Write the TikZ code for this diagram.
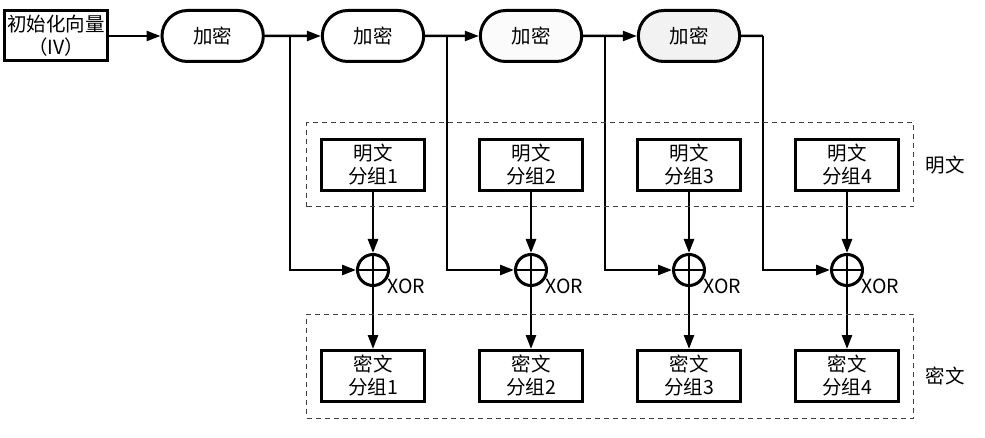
\documentclass[tikz,border=0pt]{standalone}
\usepackage{fontspec}
\setmainfont{Noto Sans CJK SC}
\usetikzlibrary{shapes.misc, arrows.meta, positioning, calc, fit}

\begin{document}
\begin{tikzpicture}[x=1pt, y=1pt, >={Triangle[length=14pt, width=10pt]}, font=\fontsize{19.5}{23}\selectfont]
  \tikzstyle{block} = [rectangle, draw, line width=3pt, text width=100pt, text centered, inner sep=1.5pt, minimum height=51pt]
  \tikzstyle{enc} = [rounded rectangle, draw, line width=3pt, minimum width=108pt, minimum height=51pt]
  \tikzstyle{xor} = [circle, draw, line width=3pt, minimum size=31pt, inner sep=0pt]
  \tikzstyle{group} = [rectangle, draw=black!75, dash pattern=on 5pt off 4pt, line width=1pt, inner xsep=13.5pt, inner ysep=15pt]
  \tikzstyle{wire} = [line width=2.5pt]

  \useasboundingbox (0,0) rectangle (985,-438);

  % plaintext blocks
  \node [block] (p1) at (373,-165) {明文\\分组1};
  \node [block, right=52pt of p1] (p2) {明文\\分组2};
  \node [block, right=52pt of p2] (p3) {明文\\分组3};
  \node [block, right=52pt of p3] (p4) {明文\\分组4};

  % xor gates
  \node [xor, below=61pt of p1] (x1) {};
  \node [xor, below=61pt of p2] (x2) {};
  \node [xor, below=61pt of p3] (x3) {};
  \node [xor, below=61pt of p4] (x4) {};

  % ciphertext blocks
  \node [block, below=62pt of x1] (c1) {密文\\分组1};
  \node [block, below=62pt of x2] (c2) {密文\\分组2};
  \node [block, below=62pt of x3] (c3) {密文\\分组3};
  \node [block, below=62pt of x4] (c4) {密文\\分组4};

  % encryption chain
  \node [enc, above=75pt of p1] (enc2) {加密};
  \node [enc, fill=gray!3, above=75pt of p2] (enc3) {加密};
  \node [enc, fill=gray!10, above=75pt of p3] (enc4) {加密};
  \node [enc, left=56pt of enc2] (enc1) {加密};
  \node [block, left=52pt of enc1, inner sep=1pt, minimum height=50pt] (iv) {初始化向量\\（IV）};

  \coordinate (b1) at ($(p1.west |- enc1.east)+(-30pt,0)$);
  \coordinate (b2) at ($(p2.west |- enc2.east)+(-31pt,0)$);
  \coordinate (b3) at ($(p3.west |- enc3.east)+(-31pt,0)$);
  \coordinate (b4) at ($(p4.west |- enc4.east)+(-31pt,0)$);

  \draw[->, wire] (iv) -- (enc1);
  \draw[->, wire] (enc1) -- (enc2);
  \draw[->, wire] (enc2) -- (enc3);
  \draw[->, wire] (enc3) -- (enc4);
  \draw[wire] (enc4) -- (b4);

  \draw[->, wire] (b1) |- (x1);
  \draw[->, wire] (b2) |- (x2);
  \draw[->, wire] (b3) |- (x3);
  \draw[->, wire] (b4) |- (x4);

  \draw[->, wire] (p1) -- (x1);
  \draw[->, wire] (p2) -- (x2);
  \draw[->, wire] (p3) -- (x3);
  \draw[->, wire] (p4) -- (x4);

  \draw[->, wire] (x1) -- (c1);
  \draw[->, wire] (x2) -- (c2);
  \draw[->, wire] (x3) -- (c3);
  \draw[->, wire] (x4) -- (c4);

  % plus signs inside the circles
  \draw[wire] (x1.north) -- (x1.south) (x1.west) -- (x1.east);
  \draw[wire] (x2.north) -- (x2.south) (x2.west) -- (x2.east);
  \draw[wire] (x3.north) -- (x3.south) (x3.west) -- (x3.east);
  \draw[wire] (x4.north) -- (x4.south) (x4.west) -- (x4.east);

  \node [anchor=north west, inner sep=0pt] (xl1) at ($(x1.south east)+(2pt,3pt)$) {XOR};
  \node [anchor=north west, inner sep=0pt] (xl2) at ($(x2.south east)+(2pt,3pt)$) {XOR};
  \node [anchor=north west, inner sep=0pt] (xl3) at ($(x3.south east)+(2pt,3pt)$) {XOR};
  \node [anchor=north west, inner sep=0pt] (xl4) at ($(x4.south east)+(2pt,3pt)$) {XOR};

  % dashed groups
  \node [group, fit=(p1)(p4)] (ptext) {};
  \coordinate (ctop) at ($(c1.north)+(0,20pt)$);
  \node [group, fit=(ctop)(c1)(c4)] (ctext) {};

  \node [anchor=west] (plabel) at ($(ptext.east |- p4)+(8pt,0)$) {明文};
  \node [anchor=west] (clabel) at ($(ctext.east |- c4)+(8pt,0)$) {密文};
\end{tikzpicture}
\end{document}
